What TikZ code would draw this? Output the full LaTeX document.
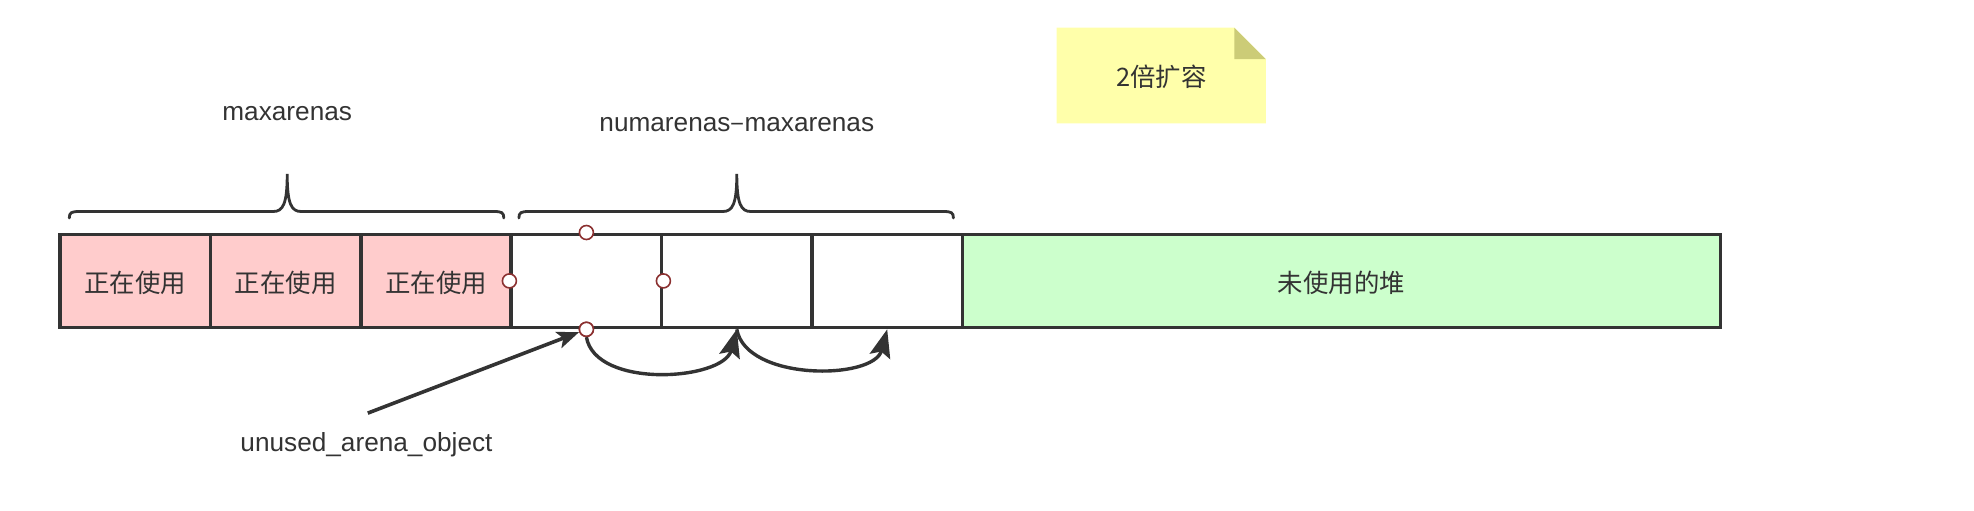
\documentclass[tikz,border=0pt]{standalone}
\usepackage{fontspec}
\setmainfont{Liberation Sans}
\newfontfamily\cjk{Noto Sans CJK SC}
\usetikzlibrary{arrows.meta}
\definecolor{ink}{HTML}{333333}
\definecolor{usedpink}{HTML}{FFCCCC}
\definecolor{freegreen}{HTML}{CCFFCC}
\definecolor{noteyellow}{HTML}{FFFFAA}
\definecolor{notefold}{HTML}{CCCC77}
\definecolor{pointred}{HTML}{8B3030}
\tikzset{
  cell/.style={draw=ink, line width=1.8pt, inner sep=0pt, minimum width=75.2pt, minimum height=46.6pt, text=ink, font=\cjk\fontsize{12.7}{15}\selectfont},
  celltext/.style={text=ink, inner sep=0pt, font=\cjk\fontsize{12.7}{15}\selectfont},
  lbl/.style={text=ink, inner sep=0pt, font=\fontsize{13.1}{15}\selectfont},
  brace/.style={draw=ink, line width=1.4pt, line cap=round},
  pt/.style={circle, draw=pointred, fill=white, line width=0.8pt, minimum size=7pt, inner sep=0pt},
  conn/.style={draw=ink, line width=1.7pt},
}
\begin{document}
\begin{tikzpicture}[x=0.5pt, y=-0.5pt]
\useasboundingbox (0,0) rectangle (1974,510);
% note
\fill[noteyellow] (1056.7,27.7) -- (1234.3,27.7) -- (1265.8,59.2) -- (1265.8,123.4) -- (1056.7,123.4) -- cycle;
\fill[notefold] (1234.3,27.7) -- (1265.8,59.2) -- (1234.3,59.2) -- cycle;
\node[celltext] (note) at (1161.3,76.5) {2倍扩容};
% cells
\node[cell, fill=usedpink] (c1) at (135.2,280.9) {};
\node[cell, fill=usedpink] (c2) at (285.6,280.9) {};
\node[cell, fill=usedpink] (c3) at (436,280.9) {};
\node[cell, fill=white] (c4) at (586.4,280.9) {};
\node[cell, fill=white] (c5) at (736.8,280.9) {};
\node[cell, fill=white] (c6) at (887.2,280.9) {};
\node[cell, fill=freegreen, minimum width=379.05pt] (heap) at (1341.45,280.9) {};
\node[celltext] (t1) at ([yshift=-1.2pt]c1.center) {正在使用};
\node[celltext] (t2) at ([yshift=-1.2pt]c2.center) {正在使用};
\node[celltext] (t3) at ([yshift=-1.2pt]c3.center) {正在使用};
\node[celltext] (th) at ([yshift=-1.2pt]heap.center) {未使用的堆};
% braces
\draw[brace] (69.3,218) .. controls (69.3,212.5) and (71.5,211.5) .. (79.3,211.5) -- (273.2,211.5) .. controls (283,211.5) and (287.2,204) .. (287.2,174) .. controls (287.2,204) and (291.4,211.5) .. (301.2,211.5) -- (493.8,211.5) .. controls (501.6,211.5) and (503.8,212.5) .. (503.8,218);
\draw[brace] (518.9,218) .. controls (518.9,212.5) and (521.1,211.5) .. (528.9,211.5) -- (722.8,211.5) .. controls (732.6,211.5) and (736.8,204) .. (736.8,174) .. controls (736.8,204) and (741,211.5) .. (750.8,211.5) -- (943.4,211.5) .. controls (951.2,211.5) and (953.4,212.5) .. (953.4,218);
\node[lbl] (maxl) at (287.2,113.3) {maxarenas};
\node[lbl] (numl) at (736.8,124.7) {numarenas{\cjk –}maxarenas};
% connectors
\node[pt] (ptop) at (c4.north) {};
\node[pt] (pleft) at (c4.west) {};
\node[pt] (pright) at (c4.east) {};
\node[pt] (pbot) at (c4.south) {};
\coordinate (tail) at (367.8,413.1);
\draw[conn, line width=1.8pt, -{Stealth[length=11pt, width=8.5pt, inset=2.5pt]}] (tail) -- (pbot);
\draw[conn, -{Stealth[length=14pt, width=10.5pt, inset=2.5pt]}] (pbot.south) to[out=-80, in=-105, looseness=0.9] (c5.south);
\draw[conn, -{Stealth[length=14pt, width=10.5pt, inset=2.5pt]}] (c5.south) to[out=-80, in=-105, looseness=0.9] (c6.south);
\node[pt] at (c4.south) {};
\node[lbl] (ual) at (366.5,444.5) {unused\_arena\_object};
\end{tikzpicture}
\end{document}
